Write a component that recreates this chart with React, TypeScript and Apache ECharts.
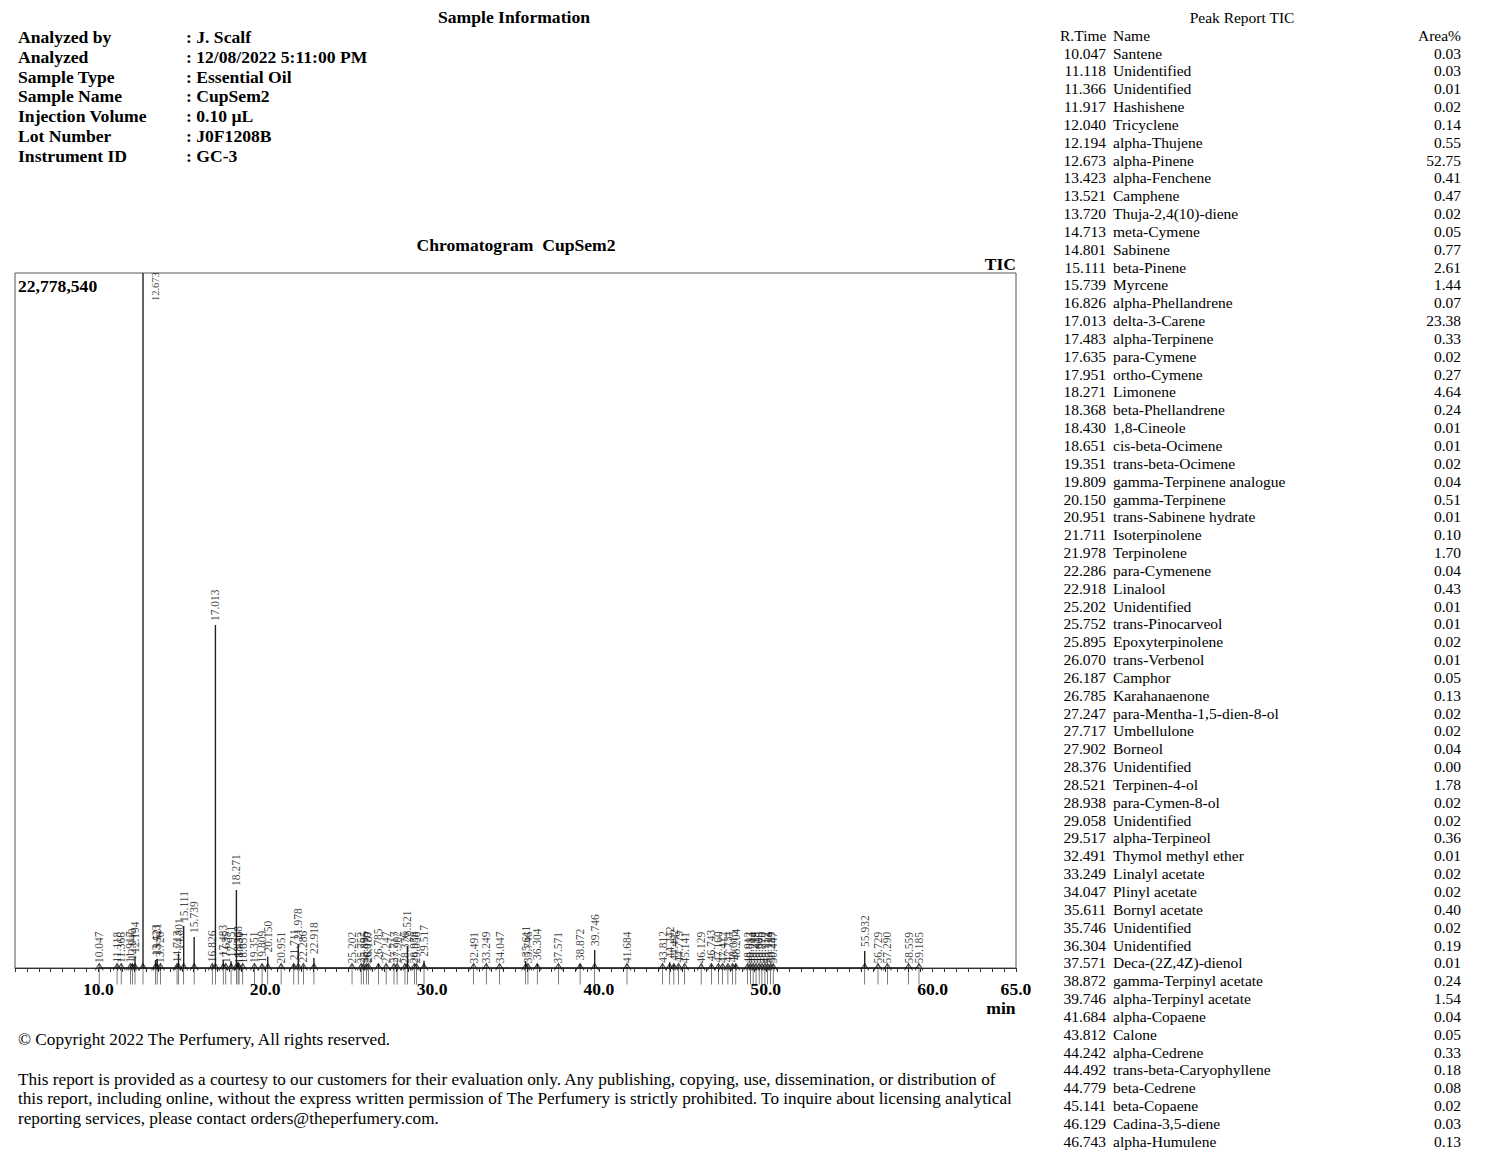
import React, { useEffect, useRef } from "react";
import * as echarts from "echarts";

const SERIF = '"Liberation Serif", "Times New Roman", serif';

// Sample information
const INFO_LABELS = ["Analyzed by", "Analyzed", "Sample Type", "Sample Name", "Injection Volume", "Lot Number", "Instrument ID"];
const INFO_VALUES = [": J. Scalf", ": 12/08/2022 5:11:00 PM", ": Essential Oil", ": CupSem2", ": 0.10 µL", ": J0F1208B", ": GC-3"];

// Peak report table
const TABLE_RTIMES = ["10.047","11.118","11.366","11.917","12.040","12.194","12.673","13.423","13.521","13.720","14.713","14.801","15.111","15.739","16.826","17.013","17.483","17.635","17.951","18.271","18.368","18.430","18.651","19.351","19.809","20.150","20.951","21.711","21.978","22.286","22.918","25.202","25.752","25.895","26.070","26.187","26.785","27.247","27.717","27.902","28.376","28.521","28.938","29.058","29.517","32.491","33.249","34.047","35.611","35.746","36.304","37.571","38.872","39.746","41.684","43.812","44.242","44.492","44.779","45.141","46.129","46.743"];
const TABLE_NAMES = ["Santene","Unidentified","Unidentified","Hashishene","Tricyclene","alpha-Thujene","alpha-Pinene","alpha-Fenchene","Camphene","Thuja-2,4(10)-diene","meta-Cymene","Sabinene","beta-Pinene","Myrcene","alpha-Phellandrene","delta-3-Carene","alpha-Terpinene","para-Cymene","ortho-Cymene","Limonene","beta-Phellandrene","1,8-Cineole","cis-beta-Ocimene","trans-beta-Ocimene","gamma-Terpinene analogue","gamma-Terpinene","trans-Sabinene hydrate","Isoterpinolene","Terpinolene","para-Cymenene","Linalool","Unidentified","trans-Pinocarveol","Epoxyterpinolene","trans-Verbenol","Camphor","Karahanaenone","para-Mentha-1,5-dien-8-ol","Umbellulone","Borneol","Unidentified","Terpinen-4-ol","para-Cymen-8-ol","Unidentified","alpha-Terpineol","Thymol methyl ether","Linalyl acetate","Plinyl acetate","Bornyl acetate","Unidentified","Unidentified","Deca-(2Z,4Z)-dienol","gamma-Terpinyl acetate","alpha-Terpinyl acetate","alpha-Copaene","Calone","alpha-Cedrene","trans-beta-Caryophyllene","beta-Cedrene","beta-Copaene","Cadina-3,5-diene","alpha-Humulene"];
const TABLE_AREAS = ["0.03","0.03","0.01","0.02","0.14","0.55","52.75","0.41","0.47","0.02","0.05","0.77","2.61","1.44","0.07","23.38","0.33","0.02","0.27","4.64","0.24","0.01","0.01","0.02","0.04","0.51","0.01","0.10","1.70","0.04","0.43","0.01","0.01","0.02","0.01","0.05","0.13","0.02","0.02","0.04","0.00","1.78","0.02","0.02","0.36","0.01","0.02","0.02","0.40","0.02","0.19","0.01","0.24","1.54","0.04","0.05","0.33","0.18","0.08","0.02","0.03","0.13"];

// Chromatogram peaks (retention time in min, apex intensity in counts)
const PEAK_TIMES = [10.047,11.118,11.366,11.917,12.040,12.194,12.673,13.423,13.521,13.720,14.713,14.801,15.111,15.739,16.826,17.013,17.483,17.635,17.951,18.271,18.368,18.430,18.651,19.351,19.809,20.150,20.951,21.711,21.978,22.286,22.918,25.202,25.752,25.895,26.070,26.187,26.785,27.247,27.717,27.902,28.376,28.521,28.938,29.058,29.517,32.491,33.249,34.047,35.611,35.746,36.304,37.571,38.872,39.746,41.684,43.812,44.242,44.492,44.779,45.141,46.129,46.743,47.160,47.412,47.731,48.015,48.204,48.912,49.083,49.244,49.418,49.605,49.770,49.952,50.113,50.289,50.447,55.932,56.729,57.290,58.559,59.185];
const PEAK_HEIGHTS = [30000,50000,30000,40000,130000,360000,22778540,260000,300000,30000,60000,460000,1380000,1020000,60000,11240000,250000,30000,220000,2560000,210000,20000,20000,30000,50000,380000,20000,120000,790000,50000,330000,20000,20000,30000,20000,50000,130000,25000,25000,45000,10000,720000,25000,25000,240000,15000,25000,25000,230000,25000,130000,15000,120000,590000,30000,45000,190000,110000,50000,15000,20000,90000,40000,30000,60000,50000,120000,20000,20000,20000,20000,20000,20000,20000,20000,30000,20000,560000,20000,20000,15000,15000];

const Y_MAX = 22778540;
const X_MIN = 5;
const X_MAX = 65;

const FOOTER_LINES = [
  "This report is provided as a courtesy to our customers for their evaluation only. Any publishing, copying, use, dissemination, or distribution of",
  "this report, including online, without the express written permission of The Perfumery is strictly prohibited. To inquire about licensing analytical",
  "reporting services, please contact orders@theperfumery.com.",
];

function txt(text: string, x: number, y: number, opts: any = {}) {
  const align = opts.align || "left";
  const size = opts.size || 16;
  const weight = opts.bold ? "bold" : "normal";
  return {
    type: "text",
    x,
    y,
    silent: true,
    style: {
      text,
      font: `${weight} ${size}px ${SERIF}`,
      fill: "#000",
      align,
      verticalAlign: "middle",
      textAlign: align,
      textVerticalAlign: "middle",
    },
  };
}

export default function App() {
  const ref = useRef<HTMLDivElement>(null);

  useEffect(() => {
    document.body.style.margin = "0";
    const chart = echarts.init(ref.current!, null, { renderer: "svg" });

    const lineData: number[][] = [];
    PEAK_TIMES.forEach((t, i) => {
      lineData.push([t, 0], [t, PEAK_HEIGHTS[i]], [t, 0]);
    });

    const topIdx = PEAK_HEIGHTS.indexOf(Math.max(...PEAK_HEIGHTS));
    const labelData = PEAK_TIMES.map((t, i) => {
      const item: any = { value: [t, PEAK_HEIGHTS[i]] };
      if (i === topIdx) {
        item.label = { position: [12, 28], fontSize: 10.5 };
      }
      return item;
    });

    const graphics: any[] = [];
    graphics.push(txt("Sample Information", 514, 17, { bold: true, size: 17.6, align: "center" }));
    INFO_LABELS.forEach((l, i) => {
      graphics.push(txt(l, 18, 37 + i * 19.8, { bold: true, size: 17.6 }));
      graphics.push(txt(INFO_VALUES[i], 186, 37 + i * 19.8, { bold: true, size: 17.6 }));
    });
    graphics.push(txt("Chromatogram  CupSem2", 516, 245, { bold: true, size: 17.6, align: "center" }));
    graphics.push(txt("TIC", 1016, 264, { bold: true, size: 17.6, align: "right" }));
    graphics.push(txt("22,778,540", 18, 286, { bold: true, size: 17.6 }));
    graphics.push(txt("min", 1001, 1008, { bold: true, size: 17.6, align: "center" }));

    graphics.push(txt("Peak Report TIC", 1242, 17, { size: 15.5, align: "center" }));
    graphics.push(txt("R.Time", 1060, 35, { size: 15.5 }));
    graphics.push(txt("Name", 1113, 35, { size: 15.5 }));
    graphics.push(txt("Area%", 1461, 35, { size: 15.5, align: "right" }));
    TABLE_RTIMES.forEach((r, i) => {
      const y = 53 + i * 17.84;
      graphics.push(txt(r, 1106, y, { size: 15.5, align: "right" }));
      graphics.push(txt(TABLE_NAMES[i], 1113, y, { size: 15.5 }));
      graphics.push(txt(TABLE_AREAS[i], 1461, y, { size: 15.5, align: "right" }));
    });

    graphics.push(txt("© Copyright 2022 The Perfumery, All rights reserved.", 18, 1039, { size: 17.2 }));
    FOOTER_LINES.forEach((l, i) => {
      graphics.push(txt(l, 18, 1079 + i * 19.5, { size: 17.2 }));
    });

    const option: any = {
      animation: false,
      backgroundColor: "#fff",
      grid: {
        left: 15,
        top: 273,
        width: 1001,
        height: 695,
        show: true,
        borderColor: "#555",
        borderWidth: 1,
        backgroundColor: "transparent",
      },
      xAxis: {
        type: "value",
        min: X_MIN,
        max: X_MAX,
        interval: 5,
        axisLine: { show: true, lineStyle: { color: "#333", width: 1 } },
        axisTick: { show: true, length: 4, lineStyle: { color: "#333" } },
        minorTick: { show: true, splitNumber: 7, length: 4, lineStyle: { color: "#333" } },
        splitLine: { show: false },
        axisLabel: {
          show: true,
          margin: 12,
          color: "#000",
          fontFamily: SERIF,
          fontWeight: "bold",
          fontSize: 17.6,
          showMinLabel: true,
          showMaxLabel: true,
          hideOverlap: false,
          formatter: (v: number) => (v % 10 === 0 || v === X_MAX ? v.toFixed(1) : ""),
        },
      },
      yAxis: {
        type: "value",
        min: 0,
        max: Y_MAX,
        axisLine: { show: false },
        axisTick: { show: false },
        axisLabel: { show: false },
        splitLine: { show: false },
      },
      series: [
        {
          type: "line",
          data: lineData,
          showSymbol: false,
          symbol: "none",
          lineStyle: { color: "#222", width: 1.4 },
          z: 3,
        },
        {
          type: "scatter",
          data: labelData,
          symbolSize: 0,
          clip: false,
          silent: true,
          z: 4,
          label: {
            show: true,
            position: "top",
            distance: 4,
            rotate: 90,
            align: "left",
            verticalAlign: "middle",
            fontFamily: SERIF,
            fontSize: 11.5,
            color: "#111",
            formatter: (p: any) => p.value[0].toFixed(3),
          },
        },
        {
          type: "scatter",
          data: PEAK_TIMES.map((t) => [t, 0]),
          symbol: "path://M5,0 L5,22 M1,7 L5,0 L9,7",
          symbolSize: [8, 21],
          symbolOffset: [0, 6],
          clip: false,
          silent: true,
          itemStyle: { color: "rgba(0,0,0,0)", borderColor: "#111", borderWidth: 1.1 },
          z: 5,
        },
      ],
      graphic: graphics,
    };

    chart.setOption(option);
    return () => chart.dispose();
  }, []);

  return (
    <div
      ref={ref}
      style={{ position: "absolute", left: 0, top: 0, width: 1500, height: 1163, background: "#fff" }}
    />
  );
}
